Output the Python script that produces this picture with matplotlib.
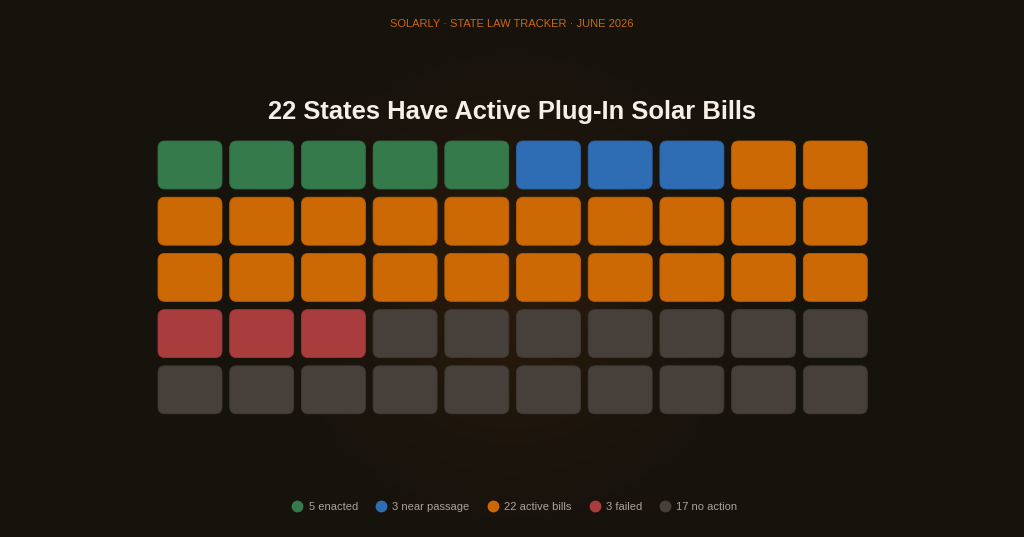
import numpy as np
import matplotlib
matplotlib.use("Agg")
import matplotlib.pyplot as plt
from matplotlib.patches import FancyBboxPatch
from matplotlib.lines import Line2D
from matplotlib.colors import to_rgb

# ---- data ----
categories = ["enacted", "near passage", "active bills", "failed", "no action"]
counts = [5, 3, 22, 3, 17]
colors = ["#357a4b", "#2e6db3", "#cc6905", "#a93d3d", "#463f3a"]
legend_labels = ["5 enacted", "3 near passage", "22 active bills", "3 failed", "17 no action"]
title = "22 States Have Active Plug-In Solar Bills"
subtitle = "SOLARLY · STATE LAW TRACKER · JUNE 2026"
n_cols = 10
n_rows = 5

BG = "#16120d"
W, H = 1024, 537
fig = plt.figure(figsize=(W / 100, H / 100), dpi=100, facecolor=BG)

# background glow
bg_ax = fig.add_axes([0, 0, 1, 1])
bg_ax.set_axis_off()
yy, xx = np.mgrid[0:H, 0:W]
r = np.sqrt((xx - 512) ** 2 + (yy - 285) ** 2)
g = np.exp(-(r / 160.0) ** 2)
base = np.array(to_rgb(BG))
glow = np.array(to_rgb("#281a0b"))
img = base[None, None, :] * (1 - g[..., None]) + glow[None, None, :] * g[..., None]
bg_ax.imshow(img, extent=[0, W, H, 0], aspect="auto", interpolation="bilinear")
bg_ax.set_xlim(0, W)
bg_ax.set_ylim(H, 0)

# waffle axes
pitch_x, pitch_y = 71.7, 56.2
cell_w, cell_h = 64.0, 48.0
gx = 1 - cell_w / pitch_x
gy = 1 - cell_h / pitch_y
left_px = 158 - gx * pitch_x / 2
top_px = 141 - gy * pitch_y / 2
ax = fig.add_axes([left_px / W, 1 - (top_px + n_rows * pitch_y) / H,
                   n_cols * pitch_x / W, n_rows * pitch_y / H])
ax.set_axis_off()
ax.set_xlim(-gx / 2, n_cols - gx / 2)
ax.set_ylim(n_rows - gy / 2, -gy / 2)

cell_colors = []
for c, n in zip(colors, counts):
    cell_colors += [c] * n

def darker(c, f=0.9):
    rgb = np.array(to_rgb(c))
    return tuple(rgb * f)

rad = 7.0 / pitch_x
aspect = pitch_x / pitch_y
for i, c in enumerate(cell_colors):
    col = i % n_cols
    row = i // n_cols
    p = FancyBboxPatch((col, row), 1 - gx, 1 - gy,
                       boxstyle=f"round,pad=0,rounding_size={rad}",
                       mutation_aspect=aspect,
                       facecolor=c, edgecolor=darker(c), linewidth=0.6)
    ax.add_patch(p)

# texts
fig.text(0.5, 1 - 24 / H, subtitle, ha="center", va="center",
         color="#c8690e", fontsize=8, family="Liberation Sans")
fig.text(0.5, 1 - 112 / H, title, ha="center", va="center",
         color="#f5efe6", fontsize=18.4, fontweight="bold", family="Liberation Sans")

# legend
handles = [Line2D([], [], marker="o", linestyle="none", markersize=7.5,
                  markerfacecolor=c, markeredgecolor=c) for c in colors]
fig.legend(handles, legend_labels, loc="center", bbox_to_anchor=(0.5, 1 - 507 / H),
           ncol=5, frameon=False, handletextpad=0.0, columnspacing=1.1,
           prop={"family": "Liberation Sans", "size": 8}, labelcolor="#aaa39a")

fig.savefig("out.png", dpi=100, facecolor=BG)
